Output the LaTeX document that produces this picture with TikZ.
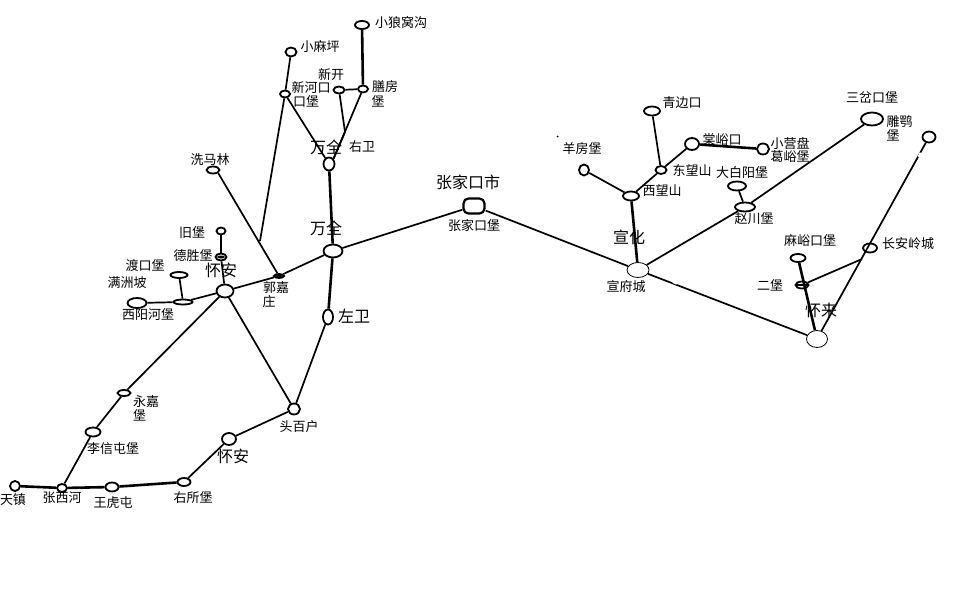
\documentclass[tikz,border=0pt]{standalone}
\usepackage{fontspec}
\setmainfont{Noto Sans CJK SC}
\usetikzlibrary{shapes.geometric}
\tikzset{
  st/.style={draw=black,ellipse,line width=1.8pt,fill=white,inner sep=0pt},
  thinst/.style={st,line width=0.8pt},
  rd/.style={line width=1.7pt,draw=black},
  hv/.style={line width=2.6pt,draw=black},
  lb/.style={inner sep=0pt,font=\fontsize{13}{14}\selectfont,text=black},
  bg/.style={inner sep=0pt,font=\fontsize{16}{17}\selectfont,text=black},
}
\newcommand{\N}[5]{\node[st,minimum width=#4pt,minimum height=#5pt] (#1) at (#2,#3) {};}
\begin{document}
\begin{tikzpicture}[x=1pt,y=-1pt]
\useasboundingbox (0,0) rectangle (961,613);
\fill[white] (0,0) rectangle (961,613);
\coordinate (jA) at (260,241);
\coordinate (jB) at (345,132);
\coordinate (jC) at (862,259);
\N{xlw}{362}{25}{14}{8}
\N{xmp}{291}{52}{11}{9}
\N{xhk}{285}{94}{10}{7}
\N{xk}{339}{90}{11}{7}
\N{sf}{363}{89}{10}{7}
\N{yw}{329}{164}{11}{13}
\N{xml}{213}{170}{13}{7}
\N{wq}{333}{251}{19}{13}
\N{jb}{221}{231}{9}{7}
\N{ds}{221}{257}{11}{7}
\N{ha}{225}{291}{17}{13}
\N{dk}{179}{275}{17}{6}
\N{mz}{183}{302}{19}{5}
\N{xy}{137}{303}{19}{10}
\N{gj}{279}{276}{10}{4}
\N{zw}{328}{317}{10}{15}
\N{tb}{294}{409}{12}{11}
\N{hb}{229}{439}{14}{12}
\N{yj}{124}{393}{13}{6}
\N{lx}{93}{432}{15}{9}
\N{tz}{15}{486}{10}{10}
\N{zx}{62}{488}{10}{8}
\N{wh}{112}{487}{13}{9}
\N{ys}{184}{482}{13}{8}
\node[draw=black,line width=2.2pt,fill=white,rectangle,rounded corners=5pt,inner sep=0pt,minimum width=21pt,minimum height=15pt] (zj) at (474,206) {};
\N{xw}{631}{196}{16}{9}
\N{dw}{661}{170}{11}{8}
\N{qb}{652}{111}{16}{9}
\N{cy}{692}{144}{14}{12}
\N{xyp}{763}{149}{12}{11}
\N{yf}{584}{170}{10}{11}
\N{dby}{737}{186}{18}{9}
\N{zc}{745}{207}{20}{9}
\N{de}{872}{119}{22}{13}
\N{far}{929}{137}{13}{11}
\N{ca}{870}{248}{14}{9}
\N{my}{798}{258}{15}{8}
\N{eb}{802}{285}{13}{7}
\node[thinst,minimum width=22pt,minimum height=15pt] (xf) at (638,270) {};
\node[thinst,minimum width=21pt,minimum height=17pt] (hl) at (817,339) {};
% connectors
\draw[hv] (xlw)--(sf);
\draw[rd] (sf)--(xk);
\draw[rd] (xk)--(jB);
\draw[rd] (sf)--(yw.north east);
\draw[rd] (jB)--(yw.north east);
\draw[rd] (xhk)--(yw);
\draw[hv] (yw)--(wq);
\draw[rd] (xmp)--(xhk);
\draw[rd] (xhk)--(jA);
\draw[rd] (xml.south east)--(gj);
\draw[rd] (gj)--(wq);
\draw[rd] (gj)--(ha);
\draw[hv] (jb)--(ds);
\draw[rd] (ds)--(ha);
\draw[rd] (ha)--(mz);
\draw[rd] (mz)--(xy);
\draw[rd] (dk)--(mz);
\draw[rd] (ha)--(yj);
\draw[rd] (yj)--(lx);
\draw[rd] (lx)--(zx);
\draw[hv] (tz)--(zx);
\draw[hv] (zx)--(wh);
\draw[hv] (wh)--(ys);
\draw[rd] (ys)--(hb);
\draw[rd] (hb)--(tb);
\draw[rd] (tb)--(ha);
\draw[rd] (tb)--(zw);
\draw[hv] (zw)--(wq);
\draw[rd] (wq)--(zj);
\draw[rd] (zj)--(xf);
\draw[hv] (xf)--(xw);
\draw[rd] (xw)--(yf);
\draw[rd] (xw)--(dw);
\draw[rd] (dw)--(cy);
\draw[rd] (dw)--(qb);
\draw[hv] (cy)--(xyp);
\draw[rd] (xf)--(zc);
\draw[rd] (zc)--(de);
\draw[rd] (zc)--(dby);
\draw[rd] (xf)--(hl);
\draw[hv] (my)--(hl);
\draw[rd] (hl)--(far);
\draw[rd] (eb)--(jC);
% small marks
\draw[line width=1.2pt] (eb.west)--(eb.east);
\fill[black] (ds.center) ellipse (4 and 1.5);
\fill[black] (gj.center) ellipse (4 and 1);
\draw[white,line width=3pt] (673,281.5)--(677,283.2);
\draw[white,line width=3pt] (919,157)--(921,153);
\fill[black] (557.5,136.5) circle (1);
% labels
\node[lb] (t1) at (401,23) {小狼窝沟};
\node[lb] (t2) at (320,47) {小麻坪};
\node[lb] (t3) at (331,75) {新开};
\node[lb] (t4) at (311,88) {新河口};
\node[lb] (t5) at (306,101) {口堡};
\node[lb] (t6) at (385,87) {膳房};
\node[lb] (t7) at (378,101) {堡};
\node[bg] (t8) at (326,147) {万全};
\node[lb] (t9) at (362,147) {右卫};
\node[lb] (t10) at (210,160) {洗马林};
\node[lb] (t11) at (192,233) {旧堡};
\node[lb] (t12) at (193,256) {德胜堡};
\node[bg] (t13) at (221,270) {怀安};
\node[lb] (t14) at (145,266) {渡口堡};
\node[lb] (t15) at (127,283) {满洲坡};
\node[lb] (t16) at (148,315) {西阳河堡};
\node[lb] (t17) at (276,288) {郭嘉};
\node[lb] (t18) at (269,302) {庄};
\node[bg] (t19) at (326,228) {万全};
\node[bg] (t20) at (354,316) {左卫};
\node[lb] (t21) at (146,402) {永嘉};
\node[lb] (t22) at (139.5,415) {堡};
\node[lb] (t23) at (113,449) {李信屯堡};
\node[lb] (t24) at (299,427) {头百户};
\node[bg] (t25) at (233,456) {怀安};
\node[lb] (t26) at (13,500) {天镇};
\node[lb] (t27) at (62,498) {张西河};
\node[lb] (t28) at (113,503) {王虎屯};
\node[lb] (t29) at (193,498) {右所堡};
\node[bg] (t30) at (468,182) {张家口市};
\node[lb] (t31) at (474,226) {张家口堡};
\node[lb] (t32) at (582,149) {羊房堡};
\node[lb] (t33) at (682,103) {青边口};
\node[lb] (t34) at (722,140) {棠峪口};
\node[lb] (t35) at (790,144) {小营盘};
\node[lb] (t36) at (790,157) {葛峪堡};
\node[lb] (t37) at (692,170) {东望山};
\node[lb] (t38) at (662,191) {西望山};
\node[lb] (t39) at (742,173) {大白阳堡};
\node[lb] (t40) at (754,219) {赵川堡};
\node[bg] (t41) at (629,237) {宣化};
\node[lb] (t42) at (626,287) {宣府城};
\node[lb] (t43) at (872,98) {三岔口堡};
\node[lb] (t44) at (899.5,122) {雕鹗};
\node[lb] (t45) at (893,135) {堡};
\node[lb] (t46) at (810,241) {麻峪口堡};
\node[lb] (t47) at (908,244) {长安岭城};
\node[lb] (t48) at (770,285) {二堡};
\node[bg] (t49) at (821,310) {怀来};
\end{tikzpicture}
\end{document}
